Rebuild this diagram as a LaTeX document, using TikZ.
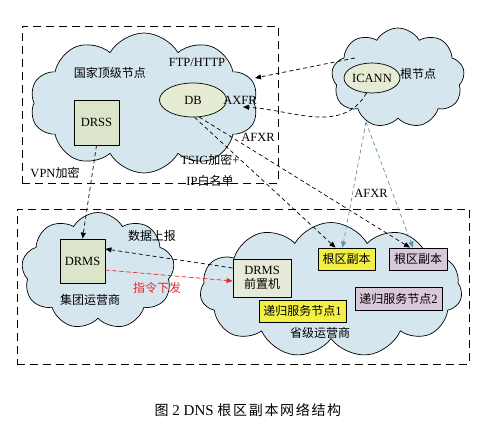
\documentclass[tikz,border=0pt]{standalone}
\usepackage{fontspec}
\setmainfont{Liberation Serif}
\newfontfamily\cjk{Noto Sans CJK SC}
\newfontfamily\cjkcap[LetterSpace=12]{Noto Sans CJK SC}
\usetikzlibrary{shapes.symbols,shapes.geometric,arrows.meta,calc}
\definecolor{cloudfill}{HTML}{D6E6EE}
\definecolor{ellfill}{HTML}{E6EBD3}
\definecolor{boxfill}{HTML}{DCE4CA}
\definecolor{frontfill}{HTML}{E5EAD9}
\definecolor{yelfill}{HTML}{F2F044}
\definecolor{purfill}{HTML}{D9C8DA}
\definecolor{bluedash}{HTML}{5E93A6}
\definecolor{redline}{HTML}{E8282A}
\newcommand\zhtxt[1]{{\cjk\fontsize{12}{14}\selectfont #1}}
\begin{document}
\begin{tikzpicture}[x=1pt,y=1pt,font=\fontsize{12.5}{14}\selectfont,
  cloudnode/.style={cloud, cloud puffs=9, cloud puff arc=120, cloud ignores aspect, draw, line width=0.7pt, fill=cloudfill, inner sep=0pt},
  dbox/.style={draw, dash pattern=on 8pt off 5pt, line width=0.8pt},
  conn/.style={dash pattern=on 4pt off 3pt, line width=0.7pt, -{Triangle[length=6pt,width=5pt]}},
  bconn/.style={conn, draw=bluedash},
  rconn/.style={conn, draw=redline, fill=redline},
  sqbox/.style={draw, line width=0.8pt, fill=boxfill, inner sep=0pt},
  tagbox/.style={draw, line width=0.8pt, inner sep=0pt, minimum height=22pt},
  ell/.style={ellipse, draw, line width=0.7pt, fill=ellfill, inner sep=0pt}]
\useasboundingbox (0,0) rectangle (499,-433);
% dashed frames
\node[dbox, minimum width=256pt, minimum height=157pt, anchor=north west] (topframe) at (22,-26) {};
\node[dbox, minimum width=452pt, minimum height=155pt, anchor=north west] (botframe) at (17,-209) {};
% clouds
\node[cloudnode, cloud puffs=10, minimum width=228pt, minimum height=140pt] (c1) at (144,-103) {};
\node[cloudnode, cloud puffs=9, minimum width=133pt, minimum height=100pt] (c2) at (398,-78) {};
\node[cloudnode, cloud puffs=9, minimum width=153pt, minimum height=117pt] (c3) at (98,-271) {};
\node[cloudnode, cloud puffs=11, minimum width=262pt, minimum height=135pt] (c4) at (331,-290) {};
% top left contents
\node (t1) at (110,-73) {\zhtxt{国家顶级节点}};
\node (ftp) at (197,-62) {FTP/HTTP};
\node[ell, minimum width=67pt, minimum height=34pt] (db) at (193,-100) {DB};
\node (axfr) at (240,-100) {AXFR};
\node[sqbox, minimum width=45pt, minimum height=45pt] (drss) at (96.5,-122.5) {DRSS};
\node (afxr1) at (258,-137) {AFXR};
\node (vpn) at (55,-173) {VPN\zhtxt{加密}};
\node (tsig) at (210,-160) {TSIG\zhtxt{加密}+};
\node (ipw) at (210,-181) {IP\zhtxt{白名单}};
% ICANN
\node[ell, minimum width=52pt, minimum height=30pt] (icann) at (372,-78) {ICANN};
\node (root) at (418,-74) {\zhtxt{根节点}};
\node (afxr2) at (371,-193) {AFXR};
% bottom left
\node[sqbox, minimum width=45pt, minimum height=44pt] (drms) at (82.5,-261) {DRMS};
\node (rep) at (152,-236) {\zhtxt{数据上报}};
\node[text=redline] (cmd) at (157,-288) {\zhtxt{指令下发}};
\node (grp) at (90,-300) {\zhtxt{集团运营商}};
% bottom right
\node[draw, line width=0.8pt, fill=frontfill, minimum width=58pt, minimum height=38pt, inner sep=0pt, align=center, font=\fontsize{12.5}{15}\selectfont] (front) at (262,-278) {DRMS\\[-1pt]\zhtxt{前置机}};
\node[tagbox, fill=yelfill, minimum width=57pt] (r1) at (346.5,-259) {\zhtxt{根区副本}};
\node[tagbox, fill=purfill, minimum width=58pt] (r2) at (418,-259) {\zhtxt{根区副本}};
\node[tagbox, fill=yelfill, minimum width=87pt] (s1) at (302.5,-311) {\zhtxt{递归服务节点}1};
\node[tagbox, fill=purfill, minimum width=87pt, minimum height=23pt] (s2) at (398.5,-298.5) {\zhtxt{递归服务节点}2};
\node (prov) at (320,-333) {\zhtxt{省级运营商}};
% connectors
\coordinate (ax1) at (255,-78);
\coordinate (ax2) at (243,-107);
\coordinate (icup) at (355,-58);
\coordinate (icdn) at (366,-122);
\draw[conn] (icup) -- (ax1);
\draw[conn] (icann.-110) to[out=-120,in=-3] (ax2);
\draw[conn] (db.-85) -- ([xshift=-11pt]r1.north);
\draw[conn] (db.-70) -- ([xshift=-8pt]r2.north);
\draw[bconn] (icdn) -- ([xshift=-4pt]r1.north);
\draw[bconn] (icdn) -- ([xshift=-5pt]r2.north);
\draw[conn] (drss.south) -- (drms.north);
\draw[conn] ([yshift=10pt]front.west) -- ([yshift=12pt]drms.east);
\draw[rconn] ([yshift=-9pt]drms.east) -- ([yshift=-3pt]front.west);
% caption
\node[font=\fontsize{15}{17}\selectfont] (cap) at (248,-410) {{\cjkcap\fontsize{14}{17}\selectfont 图} 2 DNS {\cjkcap\fontsize{14}{17}\selectfont 根区副本网络结构}};
\end{tikzpicture}
\end{document}
